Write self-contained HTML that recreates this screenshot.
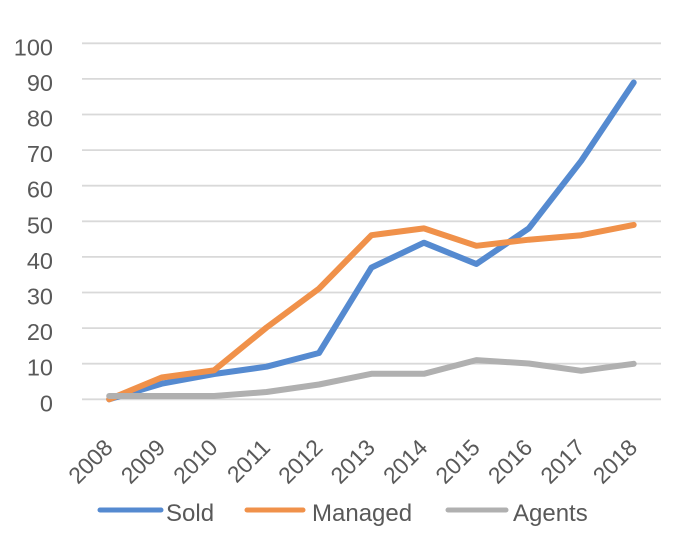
<!DOCTYPE html>
<html>
<head>
<meta charset="utf-8">
<style>
  html,body{margin:0;padding:0;background:#fff;}
  svg{display:block;}
  text{font-family:"Liberation Sans", sans-serif; fill:#595959;}
</style>
</head>
<body>
<svg width="678" height="552" viewBox="0 0 678 552" xmlns="http://www.w3.org/2000/svg">
  <rect width="678" height="552" fill="#fff"/>
  <!-- gridlines -->
  <g stroke="#d9d9d9" stroke-width="1.8">
    <line x1="82" y1="43.3" x2="661" y2="43.3"/>
    <line x1="82" y1="78.9" x2="661" y2="78.9"/>
    <line x1="82" y1="114.5" x2="661" y2="114.5"/>
    <line x1="82" y1="150.1" x2="661" y2="150.1"/>
    <line x1="82" y1="185.7" x2="661" y2="185.7"/>
    <line x1="82" y1="221.3" x2="661" y2="221.3"/>
    <line x1="82" y1="256.9" x2="661" y2="256.9"/>
    <line x1="82" y1="292.5" x2="661" y2="292.5"/>
    <line x1="82" y1="328.1" x2="661" y2="328.1"/>
    <line x1="82" y1="363.7" x2="661" y2="363.7"/>
    <line x1="82" y1="399.3" x2="661" y2="399.3"/>
  </g>
  <!-- y labels -->
  <g font-size="23.5" text-anchor="end">
    <text x="53" y="55.3">100</text>
    <text x="53" y="90.9">90</text>
    <text x="53" y="126.5">80</text>
    <text x="53" y="162.1">70</text>
    <text x="53" y="197.7">60</text>
    <text x="53" y="233.3">50</text>
    <text x="53" y="268.9">40</text>
    <text x="53" y="304.5">30</text>
    <text x="53" y="340.1">20</text>
    <text x="53" y="375.7">10</text>
    <text x="53" y="411.3">0</text>
  </g>
  <!-- x labels -->
  <g font-size="23" text-anchor="end">
    <text transform="translate(114.2,449) rotate(-45)">2008</text>
    <text transform="translate(166.65,449) rotate(-45)">2009</text>
    <text transform="translate(219.1,449) rotate(-45)">2010</text>
    <text transform="translate(271.55,449) rotate(-45)">2011</text>
    <text transform="translate(324,449) rotate(-45)">2012</text>
    <text transform="translate(376.45,449) rotate(-45)">2013</text>
    <text transform="translate(428.9,449) rotate(-45)">2014</text>
    <text transform="translate(481.35,449) rotate(-45)">2015</text>
    <text transform="translate(533.8,449) rotate(-45)">2016</text>
    <text transform="translate(586.25,449) rotate(-45)">2017</text>
    <text transform="translate(638.7,449) rotate(-45)">2018</text>
  </g>
  <!-- series -->
  <g fill="none" stroke-width="6" stroke-linejoin="round" stroke-linecap="round">
    <polyline stroke="#558ad0" points="109.2,399.3 161.65,383.7 214.1,374 266.55,366.7 319,353 371.45,267.6 423.9,242.7 476.35,264 528.8,228.4 581.25,160.8 633.7,82.5"/>
    <polyline stroke="#f0914a" points="109.2,399.3 161.65,377.5 214.1,370.3 266.55,327.5 319,288.6 371.45,235.2 423.9,228.4 476.35,245.8 528.8,239.7 581.25,235.2 633.7,224.9"/>
    <polyline stroke="#b0b0b0" points="109.2,396 161.65,396 214.1,396 266.55,392 319,384.5 371.45,373.8 423.9,373.8 476.35,360.1 528.8,363.5 581.25,370.8 633.7,363.8"/>
  </g>
  <!-- legend -->
  <g stroke-width="5" stroke-linecap="round">
    <line x1="100" y1="510" x2="161" y2="510" stroke="#558ad0"/>
    <line x1="247" y1="510" x2="303" y2="510" stroke="#f0914a"/>
    <line x1="448" y1="510" x2="506" y2="510" stroke="#b0b0b0"/>
  </g>
  <g font-size="24">
    <text x="166" y="521">Sold</text>
    <text x="312" y="521">Managed</text>
    <text x="513" y="521">Agents</text>
  </g>
</svg>
</body>
</html>
